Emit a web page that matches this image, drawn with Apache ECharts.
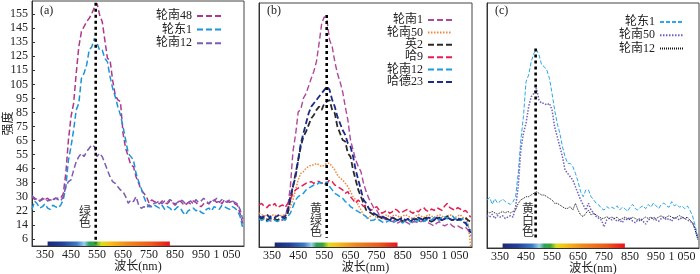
<!DOCTYPE html>
<html><head><meta charset="utf-8">
<script src="https://cdn.jsdelivr.net/npm/echarts@6/dist/echarts.min.js"></script>
<style>html,body{margin:0;padding:0;background:#fff}#c{width:700px;height:274px}</style>
</head><body><div id="c"></div>
<script>
const wavelengths = [300,310,320,330,340,350,360,370,380,390,400,410,420,430,440,450,460,470,480,490,500,510,520,530,540,550,560,570,580,590,600,610,620,630,640,650,660,670,680,690,700,710,720,730,740,750,760,770,780,790,800,810,820,830,840,850,860,870,880,890,900,910,920,930,940,950,960,970,980,990,1000,1010,1020,1030,1040,1050,1060,1070,1080,1090,1100,1110];
const xTickValues = [350,450,550,650,750,850,950,1050];
const xTickLabels = ['350','450','550','650','750','850','950','1 050'];
const yTickValues = [-5,5,15,25,35,45,55,65,75,85,95,105,115,125,135,145,155];
const yTickLabels = ['6','14','22','30','38','46','55','65','75','85','95','105','115','125','135','145','155'];

// panel (a)
const a_lunnan48 = [25,23,24,22,24,23,24,22,23,24,24, 24,27,41.7,65.4,82,91.5,112.8,131.8,142.5,146, 149.6,152,155.5,159.8,162.6,154.3,149.6,136.5,123.5,122.3, 108,97.4,93.9,92.7,70.2,59.5,53.6,47.6,46.5,39.3, 34.6,29.9,27.5,25.1,20.4,22.8,21.6, 21,20,22,21,20,22,21,19,21,22,20,19,21,20,22,21,19,18,20,21,20,22,23,21,22,20,23,22,21,22,20,19,13,6];
const a_lundong1 = [16,22,20,17,18,20,17,16,19,18,17, 19,22.8,32,51,60.7,72.5,86.8,91.5,109.3,112.8, 118.8,129.4,131.8,137.7,134.2,129.4,129.4,123.5,121,110.5, 102.2,96.2,89.1,83.2,74.9,65.4,55.9,53.6,51.2,41.7, 35.8,31,25.1,20.4,18,18,19.2, 18,17,19,16,18,17,15,16,18,17,14,12,15,16,17,15,16,14,13,16,17,15,18,17,16,19,18,17,16,18,17,15,11,3];
const a_lunnan12 = [26,24,23,22,23,24,22,23,22,24,23, 22,25,32.2,35.8,37,44,50,53.6,55.9,53.6, 57.1,59.5,61.9,60.7,53.6,55.9,53.6,48.8,44,39.3, 35.8,34.6,32.2,29.9,28.7,25.1,20.4,22.8,21.6,25.1, 19.2,16.8,18,16.8,19.2,18,20.4, 21,22,20,22,21,23,22,20,21,23,22,20,21,22,20,23,21,22,24,22,20,23,22,24,21,23,22,21,23,22,21,20,16,9];
// panel (b)
const b_lunnan1 = [12,10,9,10,9,8,10,9,10,9,11, 18.7,32.9,58,70,86,88,95.8,99,104.5,110, 115,122,134.9,149.1,153.8,151.5,137.2,132.5,121.8,113.5, 107.6,100.5,89.8,80.4,66.1,59,51.9,47.2,43.6,35.3, 29.4,24.6,21.1,17.5,16.3,12.8,11.6, 10,9,9,8,9,7,8,9,8,7,6,8,8,7,8,9,8,7,6,5,7,8,6,5,6,7,5,4,5,4,3,4,2,-2];
const b_lunnan50 = [14,13,12,13,12,13,12,13,12,13,12, 14,18.7,23.5,30.6,37.7,42.4,43.6,46,47.2,48.3, 48.3,49.5,48.3,47.2,48.3,49.5,49.5,47.2,44.8,41.2, 38.9,37.7,35.3,33,29.4,25.8,23.5,19.9,16.3,12.8, 11.6,10.4,12.8,14,10.4,11.6,11.6, 12,13,11,12,13,12,11,12,13,12,11,10,12,13,12,11,12,13,12,11,12,13,12,11,12,13,12,11,12,13,11,10,7,-10];
const b_ying2 = [11,10,11,9,10,11,10,9,10,11,10, 14,23.5,33,42.4,51.9,61.4,68.5,72,76.8,81.5, 83.9,87.5,89.8,87.5,92.2,93.4,94.6,87.5,85.1,75.6, 70.9,66.1,65,56.6,54.3,44.8,37.7,30.6,25.8,21.1, 16.3,15.1,14,12.8,11.6,11.6,10.4, 11,10,9,11,10,9,10,8,9,10,8,9,10,9,8,10,11,9,8,9,10,11,9,10,12,10,9,10,11,9,10,11,9,8];
const b_ha9 = [20,21,19,18,20,19,21,18,19,20,18, 21,23.5,28.2,30.6,31.8,33,34.1,35.3,35.8,36.5, 35.3,36.5,36.5,35.3,36.5,35.3,37.7,36.5,34.1,33, 31.8,30.6,28.2,29.4,25.8,23.5,21.1,23.5,21.1,18.7, 19.9,17.5,16.3,17.5,18.7,16.3,14, 15,16,14,15,17,16,14,15,16,17,15,14,16,15,17,18,16,15,17,16,18,17,16,19,21,18,17,16,18,17,15,16,14,11];
const b_lunnan12 = [10,9,10,8,9,10,9,8,9,10,9, 11.6,14,18.7,23.5,25.8,27,28.2,30.6,31.8,33, 34.1,34.1,35.8,35.3,34.1,36.5,33,30.6,28.2,27, 25.8,24.6,22.3,21.1,18.7,17.5,16.3,15.1,14,12.8, 11.6,9.2,8.8,9.2,10.4,9.2,8, 7,8,9,7,8,9,8,7,9,10,8,7,8,9,10,8,9,10,9,11,10,9,11,12,10,11,12,10,11,9,10,8,5,2];
const b_hade23 = [12,11,12,13,11,12,11,12,13,11,12, 16.3,25.8,33,40,51.9,63.8,70.9,78,85.1,89.8, 92.2,94.6,97,99.3,101.7,104.1,101.7,94.6,89.8,82.7, 78,73.2,69.7,63.8,61.4,54.3,44.8,37.7,30.6,23.5, 21.1,17.5,15.1,14,12.8,12,11.6, 11,10,9,11,10,9,10,11,9,10,8,10,9,11,10,9,10,11,10,9,11,10,9,10,11,10,9,10,9,10,8,7,4,0];
// panel (c)
const c_lundong1 = [24,26,21,25,22,23,25,23,22,21,23, 26.5,43.1,66.8,83.4,108.3,113,122.5,128.5,131.3,127.3, 120.2,119,116.6,110.7,100,88.2,78.7,71.6,62.1,55, 50.2,50.2,47.9,43.1,37.2,30,26.5,31.3,31.3,26.5, 24.2,21.8,20.6,18.2,17,19.4,18.2, 19,18,20,17,19,18,16,19,21,18,17,19,20,18,21,19,22,20,18,21,22,20,19,23,20,21,19,20,18,20,17,13,6,-2];
const c_lunnan50 = [13,12,14,11,13,12,13,11,12,13,12, 19.4,33.6,59.7,71.6,78.7,90.5,97.7,100,103.6,95.3, 92.9,92.9,91.7,92.9,88.2,76.3,69.2,62.1,55,45.5, 43.1,40.7,38.4,33.6,28.9,24.2,20.6,17,21.8,17, 14.7,12.3,11.1,9.9,5,9.9,11.1, 10,11,9,10,8,11,10,12,9,8,10,11,9,7,10,11,12,10,9,11,12,10,11,9,12,11,10,12,11,10,9,8,4,-3];
const c_lunnan12 = [16,15,16,15,14,15,16,15,16,15,16, 17,21.8,24.2,25.3,26.5,26.5,27.7,28.9,30.1,28.9, 27.7,27.7,26.5,25.3,24.2,21.8,21.8,20.6,19.4,18.2, 18.2,19.4,17,21.8,17,13.5,12.3,14.7,17,13.5, 14.7,13.5,12.3,11.1,11.1,12.3,11.1, 12,11,12,10,11,12,11,10,12,11,10,9,11,12,11,12,10,11,12,13,11,12,13,12,11,12,13,12,11,12,10,8,3,-4];

const panelLabels = ['(a)','(b)','(c)'];
const colorNotes = ['绿色','黄绿色','黄白色'];
const notePos = [[504,10.6],[518,9.2],[458,9.9]];
const refLines = [[[545,163],[545,-8]],[[559,155],[559,-3.5]],[[487,132],[487,-4.3]]];
const spectrumRange = [360,830];

const FONT = "'Liberation Serif','Noto Sans CJK SC',serif";
const CJK = "'Noto Sans CJK SC','Liberation Serif',sans-serif";
const grids = [
  {left:32, top:1, width:212, height:245},
  {left:259, top:3, width:213, height:244},
  {left:487, top:3, width:212, height:245}
];
const yMax = [164.3,163.5,164.3];

const panels = [
  [ {n:'轮南48', d:a_lunnan48, c:'#b0368a', t:[6,3], w:1.5},
    {n:'轮东1', d:a_lundong1, c:'#1a94d8', t:[6,3], w:1.5},
    {n:'轮南12', d:a_lunnan12, c:'#7a5cb4', t:[6,3], w:1.5} ],
  [ {n:'轮南1', d:b_lunnan1, c:'#b0479a', t:[6,3], w:1.4},
    {n:'轮南50', d:b_lunnan50, c:'#f0883a', t:[1.5,1.5], w:1.5},
    {n:'英2', d:b_ying2, c:'#2a2a2a', t:[6,3], w:1.8},
    {n:'哈9', d:b_ha9, c:'#e61e52', t:[6,3], w:1.5},
    {n:'轮南12', d:b_lunnan12, c:'#1c9ce0', t:[6,3], w:1.5},
    {n:'哈德23', d:b_hade23, c:'#1c2a8c', t:[6,3], w:1.8} ],
  [ {n:'轮东1', d:c_lundong1, c:'#2aa8ea', t:[4,2], w:1},
    {n:'轮南50', d:c_lunnan50, c:'#6f5fc2', t:[1.5,1.5], w:1.5},
    {n:'轮南12', d:c_lunnan12, c:'#111111', t:[1,1], w:1} ]
];
const legendPos = [{right:478, top:10, itemGap:1.6}, {right:247, top:14, itemGap:0.4}, {right:15, top:16, itemGap:1.2}];

const spectrumGrad = () => new echarts.graphic.LinearGradient(0,0,1,0,[
  {offset:0,color:'#1b2a78'},{offset:0.12,color:'#22409a'},{offset:0.24,color:'#3c7cc4'},
  {offset:0.30,color:'#9ccfea'},{offset:0.34,color:'#2aa45a'},{offset:0.39,color:'#3aa43c'},
  {offset:0.44,color:'#dade20'},{offset:0.50,color:'#f5c416'},{offset:0.65,color:'#f08a1e'},
  {offset:0.85,color:'#ec5a1c'},{offset:1,color:'#e8151d'}]);

const series = [], legends = [], xAxes = [], yAxes = [], titles = [];
panels.forEach((list, p) => {
  const key = 'abc'[p];
  list.forEach(s => {
    series.push({
      name: key + '|' + s.n, type:'line', xAxisIndex:p, yAxisIndex:p,
      data: wavelengths.map((w,i)=>[w, s.d[i]]),
      symbol:'none', smooth:false, silent:true,
      lineStyle:{color:s.c, width:s.w, type:s.t}, itemStyle:{color:s.c}
    });
  });
  series.push({
    type:'line', xAxisIndex:p, yAxisIndex:p, data: refLines[p], symbol:'none', silent:true, z:5,
    lineStyle:{color:'#000', width:2.6, type:[3,3]},
    markArea:{silent:true, itemStyle:{color:spectrumGrad(), opacity:1},
      data:[[{xAxis:spectrumRange[0], yAxis:-10},{xAxis:spectrumRange[1], yAxis:-6.8}]]},
    markPoint:{symbol:'rect', symbolSize:1, itemStyle:{color:'rgba(0,0,0,0)'}, silent:true,
      data:[{coord:notePos[p], value:colorNotes[p]}],
      label:{show:true, position:'inside', formatter: () => colorNotes[p].split('').join('\n'),
        fontSize:12, lineHeight:11.5, color:'#333', fontFamily:CJK}}
  });
  legends.push(Object.assign({
    orient:'vertical', align:'right', itemWidth:24, itemHeight:10,
    padding:0, itemStyle:{opacity:0},
    data: list.map(s => key + '|' + s.n),
    formatter: n => n.split('|')[1],
    textStyle:{fontSize:12, color:'#222', fontFamily:FONT}
  }, legendPos[p]));
  xAxes.push({
    type:'value', gridIndex:p, min:300, max:1115,
    axisLine:{show:true, onZero:false, lineStyle:{color:'#333', width:1}},
    axisTick:{show:false}, splitLine:{show:false},
    axisLabel:{customValues:xTickValues, formatter:v => xTickLabels[xTickValues.indexOf(v)],
      fontSize:12, color:'#222', margin:3, fontFamily:FONT},
    name:'波长(nm)', nameLocation:'middle', nameGap:15, nameMoveOverlap:false,
    nameTextStyle:{fontSize:12, color:'#222', fontFamily:FONT}
  });
  yAxes.push({
    type:'value', gridIndex:p, min:-10, max:yMax[p],
    axisLine:{show:true, onZero:false, lineStyle:{color:'#333', width:1}},
    splitLine:{show:false},
    axisTick: p === 0 ? {show:true, inside:true, length:3, customValues:yTickValues, lineStyle:{color:'#333'}} : {show:false},
    axisLabel: p === 0 ? {show:true, customValues:yTickValues,
      formatter:v => yTickLabels[yTickValues.indexOf(v)], fontSize:12, color:'#222', margin:4, fontFamily:FONT} : {show:false},
    name: p === 0 ? '强度' : '', nameLocation:'middle', nameGap:19, nameMoveOverlap:false,
    nameTextStyle:{fontSize:12, color:'#222', fontFamily:CJK}
  });
  titles.push({text:panelLabels[p], left:grids[p].left + 8, top:5, padding:0,
    textStyle:{fontSize:12, fontWeight:'normal', color:'#222', fontFamily:FONT}});
});

const chart = echarts.init(document.getElementById('c'), null, {renderer:'canvas'});
chart.setOption({
  animation:false, backgroundColor:'#fff',
  title: titles,
  grid: grids.map(g => Object.assign({show:true, borderColor:'#444', borderWidth:1, backgroundColor:'transparent', containLabel:false, outerBoundsMode:'none'}, g)),
  xAxis: xAxes, yAxis: yAxes, legend: legends, series: series
});
</script></body></html>
